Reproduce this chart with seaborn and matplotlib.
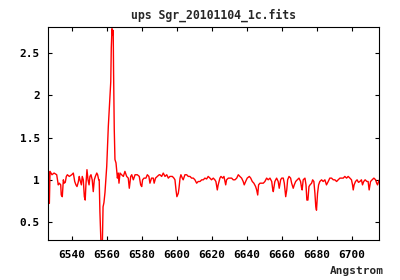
import pandas as pd
import matplotlib
matplotlib.use("Agg")
import matplotlib.pyplot as plt
import seaborn as sns

# spectrum (wavelength in Angstrom, normalised flux)
wavelength = [
    6526.8, 6527.2, 6527.6, 6528.7, 6529.9, 6531.4, 6532.3, 6532.9, 6533.7, 6534.0,
    6534.6, 6535.2, 6535.7, 6536.3, 6536.9, 6537.5, 6538.6, 6540.0, 6540.9, 6541.7,
    6542.4, 6543.0, 6543.7, 6544.3, 6544.7, 6545.5, 6546.0, 6546.6, 6547.2, 6547.7,
    6548.1, 6548.7, 6549.3, 6549.9, 6550.4, 6551.0, 6551.7, 6552.3, 6552.9, 6553.5,
    6554.3, 6554.8, 6555.4, 6555.7, 6556.1, 6556.7, 6557.5, 6557.9, 6558.4, 6559.0,
    6560.0, 6560.9, 6561.5, 6562.3, 6562.6, 6563.0, 6563.4, 6563.7, 6563.9, 6564.3,
    6564.7, 6565.3, 6566.1, 6566.6, 6567.0, 6567.6, 6568.5, 6569.5, 6570.4, 6571.4,
    6572.3, 6572.9, 6573.7, 6574.3, 6575.2, 6576.2, 6577.5, 6578.6, 6579.4, 6580.0,
    6580.5, 6581.3, 6582.4, 6583.2, 6584.1, 6584.7, 6585.6, 6586.6, 6587.1, 6587.9,
    6588.9, 6590.0, 6590.4, 6591.4, 6592.3, 6593.3, 6594.3, 6595.2, 6596.1, 6597.5,
    6598.4, 6599.0, 6599.6, 6600.1, 6600.9, 6601.3, 6601.9, 6602.4, 6603.2, 6603.7,
    6604.7, 6605.7, 6606.6, 6607.6, 6608.5, 6609.5, 6610.4, 6611.4, 6612.3, 6613.3,
    6614.3, 6615.2, 6616.1, 6617.1, 6618.0, 6619.0, 6619.9, 6620.9, 6621.8, 6622.4,
    6623.2, 6623.7, 6624.7, 6625.3, 6626.3, 6627.0, 6628.0, 6628.5, 6629.5, 6630.4,
    6631.4, 6632.3, 6633.3, 6634.3, 6635.2, 6636.1, 6637.1, 6638.0, 6638.6, 6639.4,
    6640.3, 6641.5, 6642.3, 6643.2, 6644.1, 6645.1, 6645.7, 6646.3, 6646.8, 6647.6,
    6648.5, 6649.5, 6650.4, 6651.4, 6652.3, 6653.3, 6654.3, 6654.8, 6655.2, 6656.1,
    6657.1, 6658.0, 6658.6, 6659.4, 6660.0, 6660.9, 6661.5, 6662.3, 6662.9, 6663.4,
    6664.2, 6665.1, 6665.7, 6666.6, 6667.2, 6668.0, 6668.9, 6669.9, 6670.8, 6671.4,
    6671.7, 6672.3, 6673.3, 6673.9, 6674.4, 6675.0, 6675.6, 6676.2, 6677.1, 6677.7,
    6678.4, 6679.0, 6679.5, 6679.9, 6680.5, 6681.1, 6681.8, 6682.8, 6683.7, 6684.7,
    6685.6, 6686.6, 6687.5, 6688.5, 6689.5, 6690.4, 6691.4, 6692.3, 6693.3, 6694.2,
    6695.2, 6696.1, 6697.1, 6698.0, 6699.0, 6699.9, 6700.5, 6700.9, 6701.4, 6702.2,
    6703.1, 6703.9, 6704.7, 6705.6, 6706.2, 6706.9, 6707.7, 6708.7, 6709.4, 6710.0,
    6710.8, 6711.7, 6712.7, 6713.7, 6714.3, 6714.8, 6715.4, 6715.9,
]
flux = [
    1.10, 0.72, 1.10, 1.06, 1.08, 1.06, 0.94, 0.96, 0.94, 0.82,
    0.80, 1.00, 0.96, 0.97, 1.04, 1.06, 1.04, 1.06, 1.08, 0.98,
    0.94, 0.92, 0.97, 1.04, 1.00, 0.94, 1.04, 1.00, 0.80, 0.76,
    0.94, 1.12, 1.00, 0.94, 1.04, 1.06, 1.00, 0.86, 1.00, 1.04,
    1.08, 1.06, 1.00, 1.00, 0.62, 0.25, 0.25, 0.68, 0.73, 0.85,
    1.16, 1.63, 1.85, 2.16, 2.56, 2.79, 2.72, 2.77, 2.30, 1.60,
    1.24, 1.20, 1.02, 1.08, 0.96, 1.08, 1.06, 1.04, 1.10, 1.04,
    1.02, 0.90, 1.04, 1.06, 1.00, 1.06, 1.06, 1.04, 0.94, 0.92,
    1.00, 1.02, 1.02, 1.06, 1.04, 0.96, 1.02, 1.02, 0.96, 1.02,
    1.04, 1.06, 1.06, 1.04, 1.08, 1.04, 1.06, 1.02, 1.04, 1.04,
    1.02, 1.00, 0.88, 0.80, 0.84, 0.90, 1.02, 1.06, 1.02, 1.00,
    1.06, 1.06, 1.04, 1.04, 1.02, 1.02, 1.00, 0.96, 0.98, 0.98,
    1.00, 1.00, 1.02, 1.01, 1.04, 1.02, 1.00, 1.02, 1.00, 0.98,
    0.88, 0.94, 1.02, 1.04, 1.02, 1.04, 0.94, 1.00, 1.02, 1.02,
    1.02, 1.00, 1.00, 1.02, 1.06, 1.04, 1.02, 0.98, 0.94, 0.98,
    1.02, 1.04, 1.02, 0.98, 0.96, 0.92, 0.88, 0.82, 0.94, 0.96,
    0.96, 0.96, 0.98, 1.02, 1.00, 1.02, 0.98, 0.90, 0.86, 0.98,
    1.02, 0.98, 0.90, 1.00, 1.02, 1.02, 0.96, 0.80, 0.88, 1.00,
    1.04, 1.02, 0.96, 0.90, 0.94, 0.98, 1.00, 1.02, 0.98, 0.90,
    0.88, 1.00, 1.02, 0.94, 0.76, 0.76, 0.92, 0.94, 0.96, 1.00,
    0.98, 0.84, 0.68, 0.64, 0.84, 0.94, 0.98, 1.00, 0.98, 1.00,
    0.94, 0.98, 1.02, 1.02, 1.00, 1.00, 0.98, 1.00, 1.02, 1.02,
    1.02, 1.04, 1.02, 1.04, 1.02, 1.00, 0.94, 0.88, 0.94, 0.98,
    1.00, 0.97, 0.98, 1.00, 0.94, 0.98, 1.00, 0.98, 0.98, 0.88,
    0.98, 1.00, 1.02, 1.00, 0.96, 0.94, 0.98, 1.00,
]

x_ticks = [6540, 6560, 6580, 6600, 6620, 6640, 6660, 6680, 6700]
y_ticks = [0.5, 1, 1.5, 2, 2.5]
y_labels = ["0.5", "1", "1.5", "2", "2.5"]

data = pd.DataFrame({"wavelength": wavelength, "flux": flux})

sns.set_style("ticks")
plt.rcParams["font.family"] = ["DejaVu Sans Mono", "DejaVu Sans"]
plt.rcParams["font.weight"] = "bold"

f = plt.figure(figsize=(4, 2.8), dpi=100)
ax = f.add_axes([48.3 / 400, 40 / 280, 331 / 400, 213 / 280])
sns.lineplot(x="wavelength", y="flux", data=data, color="#ff0000",
             linewidth=1.0, ax=ax, estimator=None)
ax.set_xlim(6526.6, 6715.8)
ax.set_ylim(0.287, 2.81)
ax.set_xticks(x_ticks)
ax.set_xticklabels([str(t) for t in x_ticks])
ax.set_yticks(y_ticks)
ax.set_yticklabels(y_labels)
ax.tick_params(direction="in", length=3, width=0.8, top=True, right=True,
               labelsize=8, colors="black")
ax.tick_params(axis="x", pad=7)
ax.tick_params(axis="y", pad=6)
for s in ax.spines.values():
    s.set_linewidth(0.8)
    s.set_color("black")
ax.set_xlabel("")
ax.set_ylabel("")
ax.set_title("ups Sgr_20101104_1c.fits", fontsize=8.3, fontweight="bold", pad=6)
f.text(384 / 400, 4 / 280, "Angstrom", ha="right", va="bottom",
       fontsize=8, fontweight="bold")
f.savefig("out.png", dpi=100)
